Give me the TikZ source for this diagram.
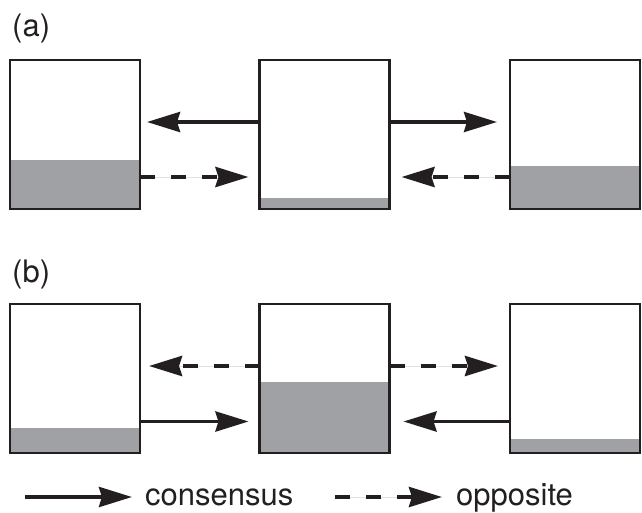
\documentclass[tikz,border=0pt]{standalone}
\usepackage{fontspec}
\setmainfont{TeX Gyre Heros}
\usetikzlibrary{arrows.meta}
\definecolor{ink}{RGB}{35,31,32}
\definecolor{level}{RGB}{160,161,164}
\tikzset{
  box/.style={draw=ink, line width=2.6pt, rectangle, minimum width=130pt, minimum height=149pt, inner sep=0pt, outer sep=0pt},
  tip/.style={-{Stealth[length=33pt, width=20pt, inset=3pt]}},
  cons/.style={tip, draw=ink, fill=ink, line width=3.8pt},
  oppo/.style={tip, draw=ink, fill=ink, line width=4pt, dash pattern=on 15pt off 16pt},
  lbl/.style={inner sep=0pt, anchor=base west, text=ink, font=\fontsize{31}{36}\selectfont}
}
\begin{document}
\begin{tikzpicture}[x=1pt, y=-1pt]
\useasboundingbox (0,0) rectangle (642,512);
% levels row (a)
\fill[level] (10,160) rectangle (140,209);
\fill[level] (260,198) rectangle (389,209);
\fill[level] (510,166) rectangle (640,209);
% levels row (b)
\fill[level] (10,428) rectangle (140,453);
\fill[level] (260,382) rectangle (389,453);
\fill[level] (510,439) rectangle (640,453);
% boxes
\node[box] (a1) at (75,134.5) {};
\node[box] (a2) at (324.5,134.5) {};
\node[box] (a3) at (575,134.5) {};
\node[box] (b1) at (75,378.5) {};
\node[box] (b2) at (324.5,378.5) {};
\node[box] (b3) at (575,378.5) {};
% labels
\node[lbl] (la) at (12,36) {(a)};
\node[lbl] (lb) at (12,282) {(b)};
% row (a) connectors
\draw[cons] ([yshift=12.5pt]a2.west) -- ([xshift=7pt,yshift=12.5pt]a1.east);
\draw[cons] ([yshift=12.5pt]a2.east) -- ([xshift=-13pt,yshift=12.5pt]a3.west);
\draw[oppo] ([yshift=-42.5pt]a1.east) -- ([xshift=-11pt,yshift=-42.5pt]a2.west);
\draw[oppo] ([yshift=-42.5pt]a3.west) -- ([xshift=12pt,yshift=-42.5pt]a2.east);
% row (b) connectors
\draw[oppo] ([yshift=12.5pt]b2.west) -- ([xshift=9pt,yshift=12.5pt]b1.east);
\draw[oppo] ([yshift=12.5pt]b2.east) -- ([xshift=-12pt,yshift=12.5pt]b3.west);
\draw[cons] ([yshift=-43pt]b1.east) -- ([xshift=-11pt,yshift=-43pt]b2.west);
\draw[cons] ([yshift=-43pt]b3.west) -- ([xshift=14pt,yshift=-43pt]b2.east);
% legend
\coordinate (c0) at (25,497);
\coordinate (c1) at (132,497);
\coordinate (o0) at (335,497);
\coordinate (o1) at (442,497);
\draw[cons] (c0) -- (c1);
\draw[oppo] (o0) -- (o1);
\node[lbl] (tc) at (145,505.5) {consensus};
\node[lbl] (to) at (456,505.5) {opposite};
\end{tikzpicture}
\end{document}
